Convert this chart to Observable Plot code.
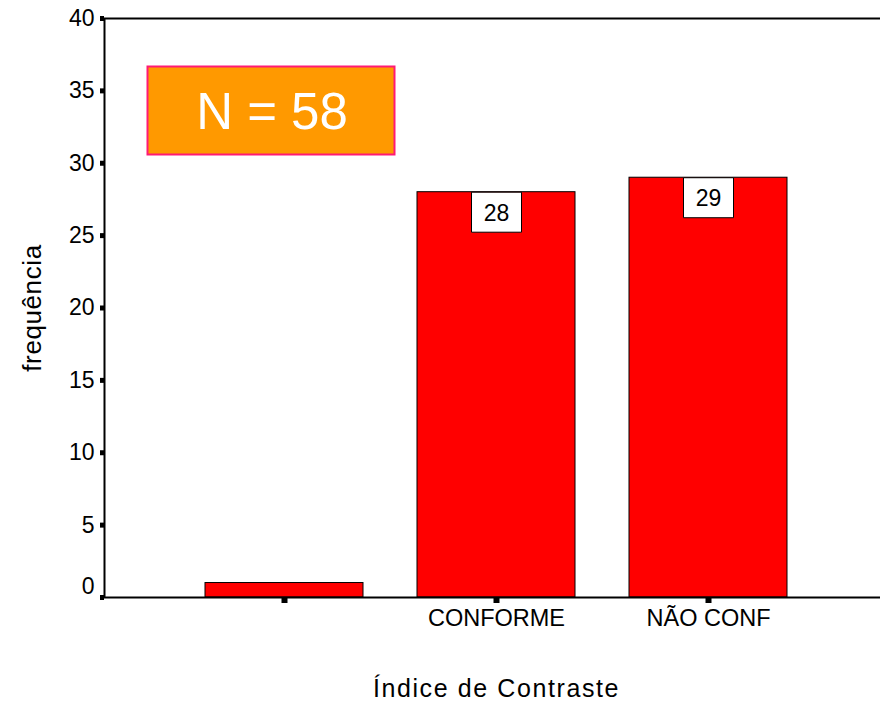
<!DOCTYPE html>
<html>
<head>
<meta charset="utf-8">
<script src="https://cdn.jsdelivr.net/npm/d3@7"></script>
<script src="https://cdn.jsdelivr.net/npm/@observablehq/plot@0.6"></script>
<style>
  body { margin: 0; overflow: hidden; background: #fff; }
  #chart svg { display: block; max-width: none !important; }
</style>
</head>
<body>
<div id="chart"></div>
<script>
// Frequency of each category of the contrast index
const categories = ["", "CONFORME", "NÃO CONF"];
const counts = [1, 28, 29];
const showLabel = [false, true, true];
const yTicks = [0, 5, 10, 15, 20, 25, 30, 35, 40];
const xTitle = "Índice de Contraste";
const yTitle = "frequência";

const data = categories.map((category, i) => ({category, count: counts[i], label: showLabel[i]}));
const total = d3.sum(counts);

// Rectangle drawn as a dot symbol so it follows the scales of its anchor point
const rectSymbol = (x, y, w, h) => ({draw(context) { context.rect(x, y, w, h); }});

const font = "Liberation Sans, Arial, sans-serif";

const chart = Plot.plot({
  width: 884,
  height: 701,
  marginLeft: 104,
  marginRight: 2,
  marginTop: 18,
  marginBottom: 104,
  style: {fontFamily: font, background: "white", color: "black", maxWidth: "none"},
  x: {domain: categories, range: [176.5, 815.5], paddingInner: 0.2535, paddingOuter: 0.127},
  y: {domain: [0, 40]},
  marks: [
    Plot.barY(data, {x: "category", y: "count", fill: "#ff0000", stroke: "black", strokeWidth: 1}),
    Plot.frame({stroke: "black", strokeWidth: 2}),
    Plot.axisY(yTicks, {tickSize: 4, strokeWidth: 5, tickPadding: 6, fontSize: 23, label: null,
      tickFormat: d => d === 0 ? "" : d}),
    Plot.axisY([0], {tickSize: 0, tickPadding: 10, dy: -11, fontSize: 23, label: null}),
    Plot.axisX({tickSize: 6, strokeWidth: 6, tickPadding: 6, fontSize: 23.5, label: null}),
    // value boxes on top of the bars
    Plot.dot(data.filter(d => d.label), {x: "category", y: "count", r: 1,
      symbol: rectSymbol(-25, 0, 50, 40), fill: "white", stroke: "black", strokeWidth: 1}),
    Plot.text(data.filter(d => d.label), {x: "category", y: "count", text: d => String(d.count),
      dy: 21, fontSize: 23, lineAnchor: "middle", textAnchor: "middle", fill: "black"}),
    // total count badge
    Plot.dot([total], {frameAnchor: "top-left", r: 1, symbol: rectSymbol(43, 48, 247, 88),
      fill: "#ff9900", stroke: "#ff1a75", strokeWidth: 2}),
    Plot.text([`N = ${total}`], {frameAnchor: "top-left", dx: 167.5, dy: 94, fontSize: 51,
      fill: "white", textAnchor: "middle", lineAnchor: "middle"}),
    // axis titles
    Plot.text([xTitle], {frameAnchor: "bottom", dx: 3, dy: 91, fontSize: 25, textAnchor: "middle",
      lineAnchor: "middle", fill: "black"}),
    Plot.text([yTitle], {frameAnchor: "left", dx: -72, rotate: -90, fontSize: 26, textAnchor: "middle",
      lineAnchor: "middle", fill: "black"})
  ]
});

d3.select(chart).selectAll("text")
  .filter(function() { return this.textContent === xTitle; })
  .attr("letter-spacing", "1.6px");
d3.select(chart).selectAll("text")
  .filter(function() { return this.textContent === yTitle; })
  .attr("letter-spacing", "0.6px");

document.getElementById("chart").append(chart);
</script>
</body>
</html>
